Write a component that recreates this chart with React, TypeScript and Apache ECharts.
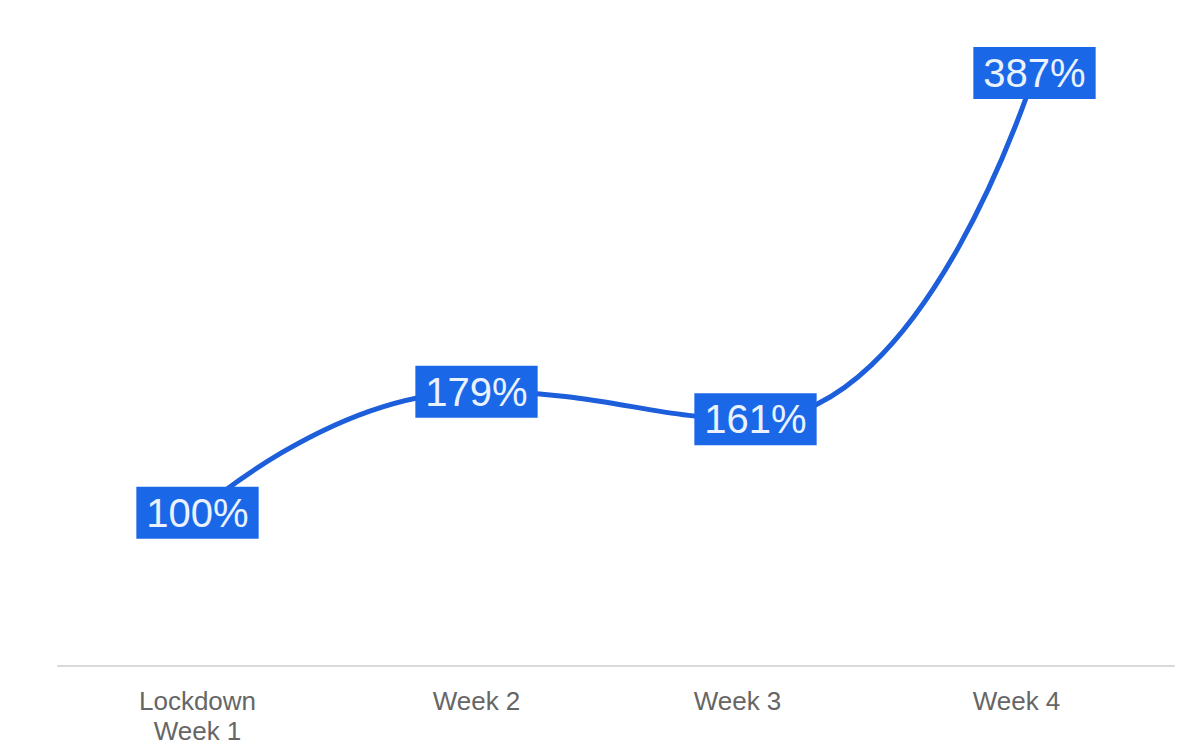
import React, { useEffect, useRef } from "react";
import * as echarts from "echarts";

const categories = ["Lockdown\nWeek 1", "Week 2", "Week 3", "Week 4"];
const values = [100, 179, 161, 387];

export default function App() {
  const ref = useRef<HTMLDivElement>(null);
  useEffect(() => {
    const chart = echarts.init(ref.current!, null, { renderer: "svg" });
    chart.setOption({
      animation: false,
      backgroundColor: "#ffffff",
      grid: { left: 58, right: 15, top: 53, bottom: 81 },
      xAxis: {
        type: "category",
        data: categories,
        boundaryGap: true,
        axisLine: { lineStyle: { color: "#d9d9d9", width: 2 } },
        axisTick: { show: false },
        axisLabel: {
          color: "#666666",
          fontSize: 26,
          fontFamily: "Liberation Sans, Arial, sans-serif",
          margin: 20,
          lineHeight: 30,
          formatter: (v: string, i: number) => (i >= 2 ? `{s|${v}}` : v),
          rich: {
            s: {
              color: "#666666",
              fontSize: 26,
              fontFamily: "Liberation Sans, Arial, sans-serif",
              lineHeight: 30,
              padding: [0, 36, 0, 0],
            },
          },
        },
      },
      yAxis: {
        type: "value",
        min: 0,
        max: 400,
        show: false,
        splitLine: { show: false },
      },
      series: [
        {
          type: "line",
          data: values,
          smooth: 0.5,
          symbol: "circle",
          symbolSize: 1,
          lineStyle: { color: "#1d5edb", width: 5 },
          itemStyle: { color: "#1d5edb" },
          label: {
            show: true,
            position: "inside",
            formatter: "{c}%",
            color: "#eaf2ff",
            fontSize: 40,
            fontFamily: "Liberation Sans, Arial, sans-serif",
            backgroundColor: "#1a68e8",
            padding: [7, 10, 5, 10],
          },
        },
      ],
    });
    return () => chart.dispose();
  }, []);
  return <div ref={ref} style={{ width: 1189, height: 747, position: "absolute", left: 0, top: 0 }} />;
}
